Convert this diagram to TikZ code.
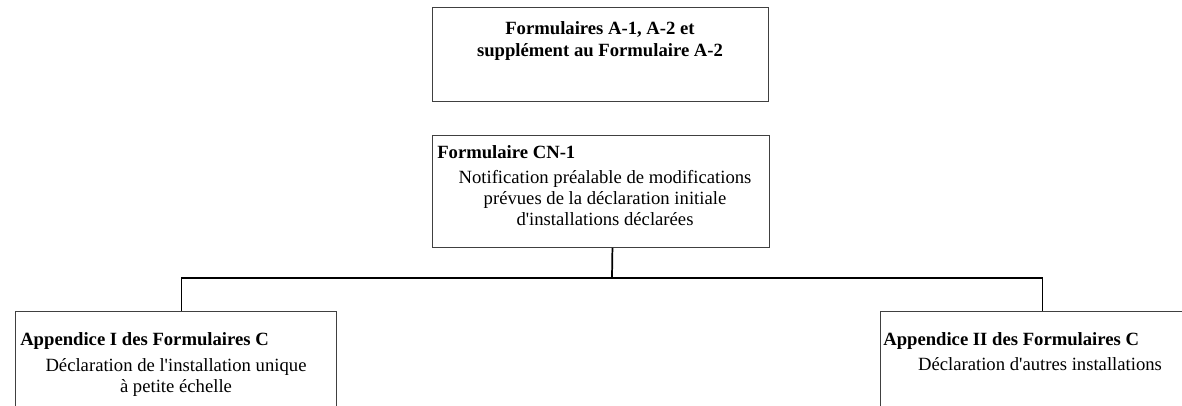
\documentclass[tikz,border=0pt]{standalone}
\usepackage{fontspec}
\setmainfont{Liberation Serif}
\usetikzlibrary{positioning}
\tikzset{
  formbox/.style={draw=black!75, line width=0.7pt, rectangle, inner sep=0pt, anchor=north west},
  boxtitle/.style={font=\fontsize{14}{15.75}\bfseries, anchor=base west, inner sep=0pt},
  boxtext/.style={font=\fontsize{14}{15.75}\selectfont, align=center, inner sep=0pt, anchor=base},
  link/.style={draw=black, line width=1.3pt}
}
\begin{document}
\begin{tikzpicture}[x=0.75pt, y=-0.75pt]
    \useasboundingbox (0,0) rectangle (1182,406);
    \clip (0,0) rectangle (1182,406);

    % Boxes
    \node[formbox, minimum width=252pt, minimum height=70.5pt] (forms) at (432,7) {};
    \node[formbox, minimum width=252.75pt, minimum height=84pt] (cn1) at (432,135) {};
    \node[formbox, minimum width=240.75pt, minimum height=90pt] (appI) at (15,311) {};
    \node[formbox, minimum width=243pt, minimum height=90pt] (appII) at (880,311) {};

    % Texts
    \node[boxtext, font=\fontsize{14}{16.5}\bfseries] (formstext) at (600,57)
        {Formulaires A-1, A-2 et\\supplément au Formulaire A-2};
    \node[boxtitle] (cn1title) at (437,159) {Formulaire CN-1};
    \node[boxtext] (cn1text) at (605,225)
        {Notification préalable de modifications\\prévues de la déclaration initiale\\d\textquotesingle installations déclarées};
    \node[boxtitle] (appItitle) at (20,345) {Appendice I des Formulaires C};
    \node[boxtext] (appItext) at (176,392)
        {Déclaration de l\textquotesingle installation unique\\à petite échelle};
    \node[boxtitle] (appIItitle) at (883,345) {Appendice II des Formulaires C};
    \node[boxtext] (appIItext) at (1040,370) {Déclaration d\textquotesingle autres installations};

    % Connectors
    \coordinate (split) at (612,278);
    \draw[link] ([xshift=8.6pt]cn1.south) -- (split);
    \draw[link] ([xshift=4.1pt]appI.north) |- (split) -| (appII.north);
\end{tikzpicture}
\end{document}
